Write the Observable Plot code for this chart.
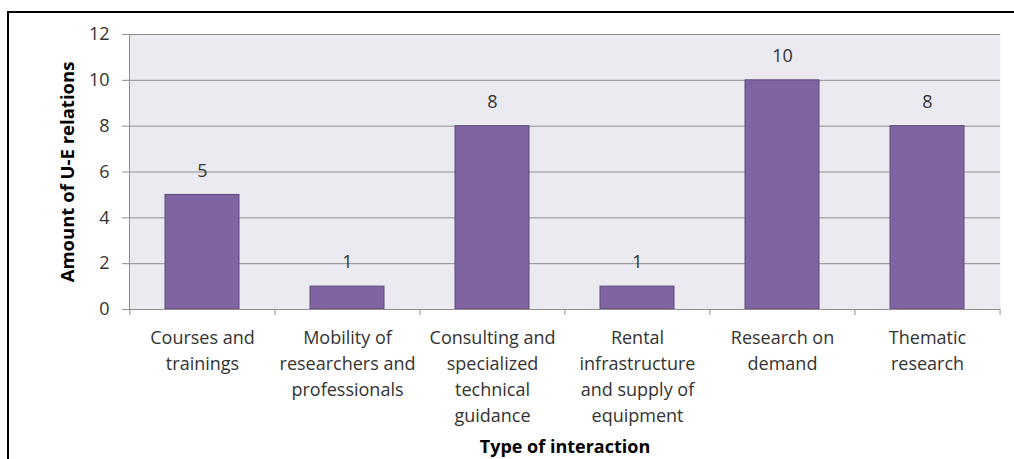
<!DOCTYPE html>
<html><head><meta charset="utf-8">
<script src="https://cdn.jsdelivr.net/npm/d3@7"></script>
<script src="https://cdn.jsdelivr.net/npm/@observablehq/plot@0.6"></script>
<style>
body{margin:0;background:#fff;}
#wrap{position:relative;width:1014px;height:459px;overflow:hidden;}
#frame{position:absolute;left:7px;top:11px;width:1010px;height:460px;border-left:2px solid #000;border-top:2px solid #000;pointer-events:none;}
</style></head><body><div id="wrap"><div id="chart"></div><div id="frame"></div></div>
<script>
const categories = ["Courses and trainings","Mobility of researchers and professionals","Consulting and specialized technical guidance","Rental infrastructure and supply of equipment","Research on demand","Thematic research"];
const tickLabels = ["Courses and\ntrainings","Mobility of\nresearchers and\nprofessionals","Consulting and\nspecialized\ntechnical\nguidance","Rental\ninfrastructure\nand supply of\nequipment","Research on\ndemand","Thematic\nresearch"];
const values = [5,1,8,1,10,8];
const yTicks = [0,2,4,6,8,10,12];
const xTitle = "Type of interaction";
const yTitle = "Amount of U-E relations";

const data = categories.map((c,i)=>({cat:c, label:tickLabels[i], value:values[i]}));
const W = 1014, H = 459, mL = 129, mR = 14, mT = 34, mB = 150;
const step = (W - mL - mR) / categories.length;
const boundaries = categories.map(c=>({cat:c, dx:-step/2})).concat([{cat:categories[categories.length-1], dx:step/2}]);
const font = "'Open Sans', sans-serif";
const gray = "#8f8f8f";
const txt = "#333";

const chart = Plot.plot({
  width: W, height: H,
  marginLeft: mL, marginRight: mR, marginTop: mT, marginBottom: mB,
  style: {fontFamily: font, background: "#fff", overflow: "visible"},
  x: {domain: categories, paddingInner: 0.49, paddingOuter: 0.245, axis: null},
  y: {domain: [0, 12], axis: null},
  marks: [
    Plot.frame({fill: "#ECEAF1", stroke: null}),
    Plot.gridY(yTicks, {stroke: gray, strokeOpacity: 1}),
    Plot.frame({anchor: "left", stroke: gray}),
    Plot.barY(data, {x: "cat", y: "value", fill: "#8064A2", stroke: "#5F497A", strokeWidth: 1}),
    Plot.ruleY([0], {stroke: gray}),
    Plot.axisY(yTicks, {label: null, tickSize: 7, tickPadding: 13, stroke: gray, fill: txt, fontSize: 18}),
    ...boundaries.map(b => Plot.ruleX([b.cat], {y1: 0, y2: 0, insetBottom: -6, dx: b.dx, stroke: gray})),
    Plot.text(data, {x: "cat", y: 0, text: "label", lineAnchor: "top", dy: 16, lineHeight: 1.45, fontSize: 18, fill: txt}),
    Plot.text(data, {x: "cat", y: "value", text: d => String(d.value), dy: -24, fontSize: 18, fill: txt}),
    Plot.text([xTitle], {frameAnchor: "bottom", textAnchor: "middle", lineAnchor: "middle", dy: 138, fontSize: 18, fontWeight: "bold", fill: "#000"}),
    Plot.text([yTitle], {frameAnchor: "left", textAnchor: "middle", lineAnchor: "middle", rotate: -90, dx: -61, fontSize: 18.5, fontWeight: "bold", fill: "#000"})
  ]
});
document.getElementById("chart").appendChild(chart);
</script>
</body></html>
